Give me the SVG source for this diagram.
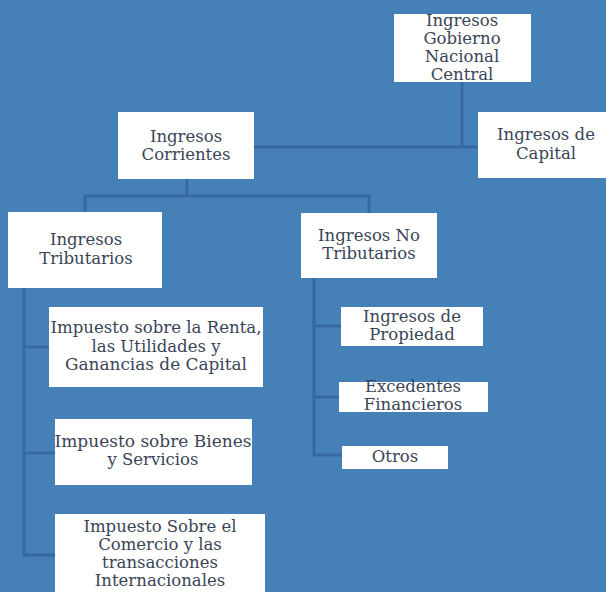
<svg xmlns="http://www.w3.org/2000/svg" width="606" height="592" viewBox="0 0 606 592">
  <style>
    .bg { fill: #4581b6; }
    .box { fill: #ffffff; }
    .lbl { font-family: "DejaVu Serif", "Liberation Serif", serif; font-size: 16.5px; fill: #3a4457; text-anchor: middle; }
    .link { fill: none; stroke: #3868a1; stroke-width: 3; }
  </style>
  <rect class="bg" x="0" y="0" width="606" height="592"/>

  <!-- connectors -->
  <g id="connectors">
    <path class="link" d="M462,82 V147"/>
    <path class="link" d="M254,147 H478"/>
    <path class="link" d="M187,179 V196"/>
    <path class="link" d="M85,212 V196 H369 V213"/>
    <path class="link" d="M24,288 V555 H55"/>
    <path class="link" d="M24,347 H49"/>
    <path class="link" d="M24,453 H55"/>
    <path class="link" d="M314,278 V455 H342"/>
    <path class="link" d="M314,326 H341"/>
    <path class="link" d="M314,397 H339"/>
  </g>

  <g id="gobierno">
    <rect class="box" x="394" y="14" width="137" height="68"/>
    <text class="lbl" x="462" y="26">Ingresos</text>
    <text class="lbl" x="462" y="44">Gobierno</text>
    <text class="lbl" x="462" y="62">Nacional</text>
    <text class="lbl" x="462" y="80">Central</text>
  </g>

  <g id="corrientes">
    <rect class="box" x="118" y="112" width="136" height="67"/>
    <text class="lbl" x="186" y="142">Ingresos</text>
    <text class="lbl" x="186" y="160">Corrientes</text>
  </g>

  <g id="capital">
    <rect class="box" x="478" y="112" width="128" height="66"/>
    <text class="lbl" x="546" y="140">Ingresos de</text>
    <text class="lbl" x="546" y="159">Capital</text>
  </g>

  <g id="tributarios">
    <rect class="box" x="8" y="212" width="154" height="76"/>
    <text class="lbl" x="86" y="245">Ingresos</text>
    <text class="lbl" x="86" y="264">Tributarios</text>
  </g>

  <g id="no-tributarios">
    <rect class="box" x="301" y="213" width="136" height="65"/>
    <text class="lbl" x="369" y="241">Ingresos No</text>
    <text class="lbl" x="369" y="259">Tributarios</text>
  </g>

  <g id="renta">
    <rect class="box" x="49" y="307" width="214" height="80"/>
    <text class="lbl" x="156" y="333" textLength="211" lengthAdjust="spacingAndGlyphs">Impuesto sobre la Renta,</text>
    <text class="lbl" x="156" y="352">las Utilidades y</text>
    <text class="lbl" x="156" y="370" textLength="182" lengthAdjust="spacingAndGlyphs">Ganancias de Capital</text>
  </g>

  <g id="bienes">
    <rect class="box" x="55" y="419" width="197" height="66"/>
    <text class="lbl" x="153" y="447" textLength="197" lengthAdjust="spacingAndGlyphs">Impuesto  sobre Bienes</text>
    <text class="lbl" x="153" y="465">y Servicios</text>
  </g>

  <g id="comercio">
    <rect class="box" x="55" y="514" width="210" height="78"/>
    <text class="lbl" x="160" y="532">Impuesto Sobre el</text>
    <text class="lbl" x="160" y="550">Comercio y las</text>
    <text class="lbl" x="160" y="568">transacciones</text>
    <text class="lbl" x="160" y="586">Internacionales</text>
  </g>

  <g id="propiedad">
    <rect class="box" x="341" y="307" width="142" height="39"/>
    <text class="lbl" x="412" y="322">Ingresos de</text>
    <text class="lbl" x="412" y="340">Propiedad</text>
  </g>

  <g id="excedentes">
    <rect class="box" x="339" y="382" width="149" height="30"/>
    <text class="lbl" x="413" y="392">Excedentes</text>
    <text class="lbl" x="413" y="410">Financieros</text>
  </g>

  <g id="otros">
    <rect class="box" x="342" y="446" width="106" height="23"/>
    <text class="lbl" x="395" y="462">Otros</text>
  </g>
</svg>
